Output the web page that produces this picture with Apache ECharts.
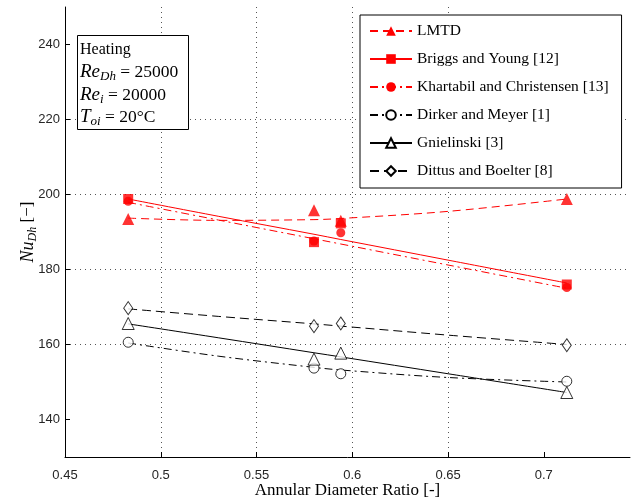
<!DOCTYPE html>
<html><head><meta charset="utf-8">
<script src="https://cdn.jsdelivr.net/npm/echarts@6.0.0/dist/echarts.min.js"></script>
<style>html,body{margin:0;padding:0;background:#fff}#c{width:636px;height:500px}</style>
</head><body><div id="c"></div>
<script>
// ---- data ----
const ratio = [0.483, 0.58, 0.594, 0.712];
const lmtd = [193.5, 195.8, 193.0, 198.8];
const briggs = [198.8, 187.3, 192.3, 176.0];
const khartabil = [198.2, 187.6, 189.8, 175.2];
const dirker = [160.6, 153.7, 152.2, 150.2];
const gnielinski = [165.6, 156.1, 157.7, 147.2];
const dittus = [169.7, 164.9, 165.6, 159.8];

// fitted trend lines
const fitRatio = [0.483, 0.53, 0.58, 0.594, 0.65, 0.712];
const lmtdFit = [193.7, 193.1, 193.3, 193.6, 195.5, 198.8];
const briggsFit = [198.8, 194.2, 189.4, 188.0, 182.5, 176.4];
const khartabilFit = [197.9, 193.2, 188.2, 186.8, 181.2, 175.0];
const dirkerFit = [160.4, 156.9, 153.9, 153.2, 151.2, 150.0];
const gnielinskiFit = [165.5, 161.8, 157.8, 156.7, 152.2, 147.2];
const dittusFit = [169.5, 167.5, 165.5, 164.9, 162.5, 160.0];

const xTicks = [0.45, 0.5, 0.55, 0.6, 0.65, 0.7];
const yTicks = [140, 160, 180, 200, 220, 240];

const names = ['LMTD', 'Briggs and Young [12]', 'Khartabil and Christensen [13]',
  'Dirker and Meyer [1]', 'Gnielinski [3]', 'Dittus and Boelter [8]'];

// ---- styling ----
const RED = '#ff0000', BLK = '#000000';
const defs = [
  {name: names[0], pts: lmtd, fit: lmtdFit, color: RED, dash: [8, 5], symbol: 'triangle', size: 12, filled: true},
  {name: names[1], pts: briggs, fit: briggsFit, color: RED, dash: 'solid', symbol: 'rect', size: 10, filled: true},
  {name: names[2], pts: khartabil, fit: khartabilFit, color: RED, dash: [8, 4, 2, 4], symbol: 'circle', size: 9, filled: true},
  {name: names[3], pts: dirker, fit: dirkerFit, color: BLK, dash: [8, 4, 2, 4], symbol: 'circle', size: 10, filled: false},
  {name: names[4], pts: gnielinski, fit: gnielinskiFit, color: BLK, dash: 'solid', symbol: 'triangle', size: 12, filled: false},
  {name: names[5], pts: dittus, fit: dittusFit, color: BLK, dash: [9, 5], symbol: 'diamond', size: [9, 13], filled: false}
];
const pairs = (xs, ys) => xs.map((x, i) => [x, ys[i]]);
const itemStyleOf = d => d.filled ? {color: d.color} : {color: '#ffffff', borderColor: d.color, borderWidth: 1};

const series = [];
defs.forEach(d => series.push({
  type: 'line', name: d.name, data: pairs(fitRatio, d.fit), smooth: 0.35,
  showSymbol: false, symbol: d.symbol, symbolSize: d.size,
  lineStyle: {color: d.color, width: 1, type: d.dash},
  itemStyle: itemStyleOf(d), z: 2, silent: true
}));
defs.forEach(d => series.push({
  type: 'scatter', name: d.name, data: pairs(ratio, d.pts),
  symbol: d.symbol, symbolSize: d.size, itemStyle: itemStyleOf(d), z: 3
}));

const tickFont = {color: '#262626', fontFamily: 'Liberation Sans', fontSize: 13};
const gridLine = {show: true, showMinLine: false, showMaxLine: false, lineStyle: {color: '#555', type: [1, 4], width: 1}};
const subRich = (big, small, normal) => ({
  i: {font: 'italic ' + big + 'px "Liberation Serif"', lineHeight: 22, fill: BLK, color: BLK},
  s: {font: 'italic ' + small + 'px "Liberation Serif"', lineHeight: 12, verticalAlign: 'bottom', fill: BLK, color: BLK},
  n: {font: normal + 'px "Liberation Serif"', lineHeight: 22, fill: BLK, color: BLK}
});

const chart = echarts.init(document.getElementById('c'));
chart.setOption({
  animation: false,
  backgroundColor: '#ffffff',
  grid: {left: 65, right: 6, top: 7, bottom: 43, containLabel: false, outerBoundsMode: 'none'},
  xAxis: {
    type: 'value', min: 0.45, max: 0.745, interval: 0.05,
    axisLine: {show: true, onZero: false, lineStyle: {color: BLK, width: 1}},
    axisTick: {show: true, inside: true, length: 5, customValues: xTicks, lineStyle: {color: BLK}},
    axisLabel: Object.assign({margin: 12, customValues: xTicks, formatter: v => String(+v.toFixed(2))}, tickFont),
    splitLine: gridLine,
    name: 'Annular Diameter Ratio [-]', nameLocation: 'middle', nameGap: 25, nameMoveOverlap: false,
    nameTextStyle: {fontFamily: 'Liberation Serif', fontSize: 17, color: BLK}
  },
  yAxis: {
    type: 'value', min: 130, max: 250, splitNumber: 6,
    axisLine: {show: true, onZero: false, lineStyle: {color: BLK, width: 1}},
    axisTick: {show: true, inside: true, length: 5, customValues: yTicks, lineStyle: {color: BLK}},
    axisLabel: Object.assign({margin: 5, customValues: yTicks}, tickFont),
    splitLine: gridLine,
    name: '{i|Nu}{s|Dh}{n| [−]}', nameLocation: 'middle', nameGap: 26, nameRotate: 90, nameMoveOverlap: false,
    nameTextStyle: {
      color: BLK,
      rich: {
        i: {fontFamily: 'Liberation Serif', fontStyle: 'italic', fontSize: 18, lineHeight: 22, color: BLK},
        s: {fontFamily: 'Liberation Serif', fontStyle: 'italic', fontSize: 12, lineHeight: 12, verticalAlign: 'bottom', color: BLK},
        n: {fontFamily: 'Liberation Serif', fontSize: 17, lineHeight: 22, color: BLK}
      }
    }
  },
  legend: {
    data: names, orient: 'vertical', left: 360, top: 15,
    itemWidth: 42, itemHeight: 12, itemGap: 12, padding: [8, 13, 9, 9],
    backgroundColor: '#ffffff', borderColor: BLK, borderWidth: 1, borderRadius: 0,
    textStyle: {fontFamily: 'Liberation Serif', fontSize: 15.5, color: BLK},
    selectedMode: false
  },
  graphic: [
    {type: 'rect', shape: {x: 77.5, y: 35.5, width: 111, height: 94}, style: {fill: '#fff', stroke: BLK, lineWidth: 1}, z: 10},
    {type: 'text', x: 80, y: 50, z: 11, style: {text: 'Heating', font: '16px "Liberation Serif"', fill: BLK, verticalAlign: 'middle'}},
    {type: 'text', x: 80, y: 72, z: 11, style: {text: '{i|Re}{s|Dh}{n| = 25000}', verticalAlign: 'middle', rich: subRich(19, 13, 17.5)}},
    {type: 'text', x: 80, y: 95, z: 11, style: {text: '{i|Re}{s|i}{n| = 20000}', verticalAlign: 'middle', rich: subRich(19, 13, 17.5)}},
    {type: 'text', x: 80, y: 117, z: 11, style: {text: '{i|T}{s|oi}{n| = 20°C}', verticalAlign: 'middle', rich: subRich(19, 13, 17.5)}}
  ],
  series: series
});
</script>
</body></html>
